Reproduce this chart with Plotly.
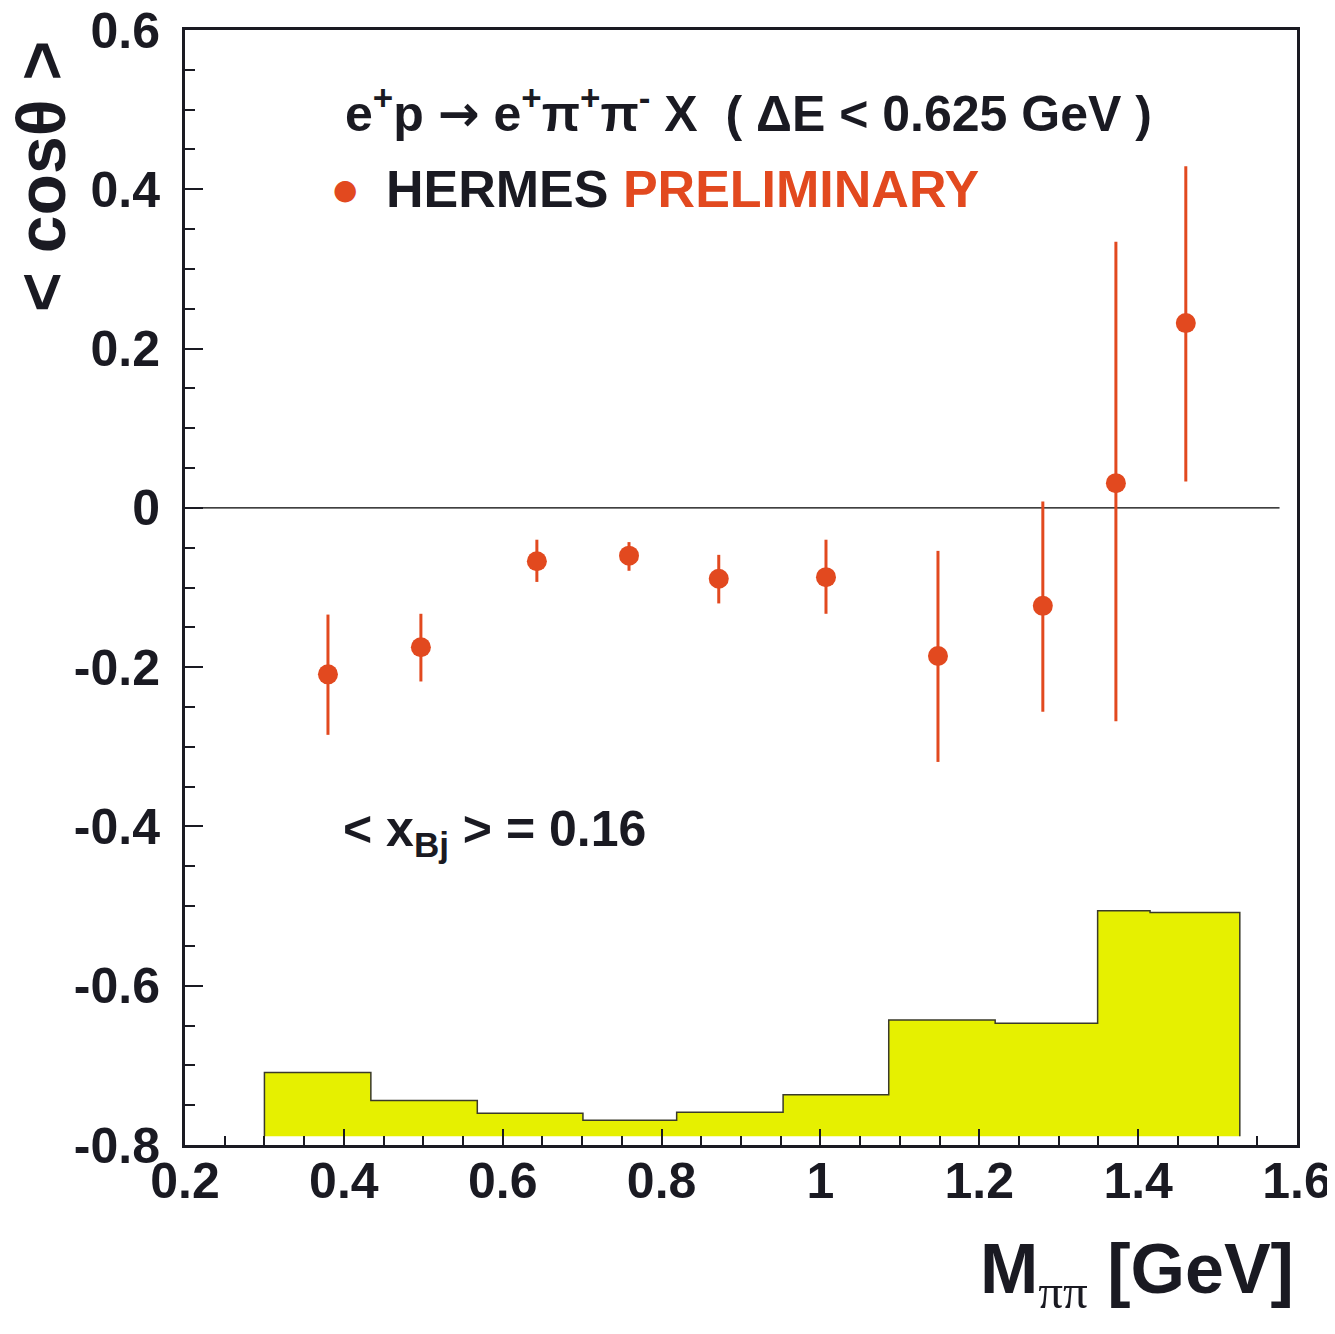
import plotly.graph_objects as go

# ---- data ----
m_pipi = [0.38, 0.497, 0.643, 0.759, 0.872, 1.007, 1.148, 1.280, 1.372, 1.460]
cos_mean = [-0.209, -0.175, -0.067, -0.060, -0.089, -0.087, -0.186, -0.123, 0.031, 0.232]
err_up = [0.075, 0.042, 0.027, 0.017, 0.030, 0.047, 0.132, 0.131, 0.303, 0.197]
err_down = [0.076, 0.043, 0.026, 0.019, 0.031, 0.046, 0.133, 0.133, 0.299, 0.199]

bin_edges = [0.30, 0.434, 0.568, 0.701, 0.819, 0.953, 1.086, 1.220, 1.349, 1.415, 1.528]
hist_top = [-0.709, -0.744, -0.760, -0.769, -0.759, -0.737, -0.643, -0.647, -0.506, -0.508]
hist_base = -0.789

y_ticks = [-0.8, -0.6, -0.4, -0.2, 0, 0.2, 0.4, 0.6]
y_ticktext = ["-0.8", "-0.6", "-0.4", "-0.2", "0", "0.2", "0.4", "0.6"]
x_ticks = [0.2, 0.4, 0.6, 0.8, 1.0, 1.2, 1.4, 1.6]
x_ticktext = ["0.2", "0.4", "0.6", "0.8", "1", "1.2", "1.4", "1.6"]

RED = "#E2491F"
YELLOW = "#E6F000"
INK = "#1a1a22"
FONT = "Liberation Sans"

# step outline polygon of the histogram
hx, hy = [bin_edges[0]], [hist_base]
for i, top in enumerate(hist_top):
    hx += [bin_edges[i], bin_edges[i + 1]]
    hy += [top, top]
hx += [bin_edges[-1]]
hy += [hist_base]

fig = go.Figure()
fig.add_trace(go.Scatter(
    x=hx, y=hy, mode="lines", fill="toself", fillcolor=YELLOW,
    line=dict(color="#3a3a2a", width=1.5), hoverinfo="skip", showlegend=False))

fig.add_trace(go.Scatter(
    x=m_pipi, y=cos_mean, mode="markers",
    marker=dict(color=RED, size=20, line=dict(width=0)),
    error_y=dict(type="data", symmetric=False, array=err_up, arrayminus=err_down,
                 color=RED, thickness=3, width=0),
    showlegend=False))

axis_common = dict(showline=True, linewidth=3, linecolor=INK, mirror=True,
                   showgrid=False, ticks="inside", tickcolor=INK, tickwidth=2,
                   automargin=False, zeroline=False, ticklabeloverflow="allow",
                   tickfont=dict(family=FONT, size=50, color=INK, weight="bold"))

fig.update_xaxes(range=[0.2, 1.6], tickvals=x_ticks, ticktext=x_ticktext,
                 ticklen=16, ticklabelstandoff=-10,
                 minor=dict(dtick=0.05, ticks="inside", ticklen=9, tickcolor=INK, tickwidth=2),
                 **axis_common)
fig.update_yaxes(range=[-0.8, 0.6], tickvals=y_ticks, ticktext=y_ticktext,
                 ticklen=18, ticklabelstandoff=12,
                 minor=dict(dtick=0.05, ticks="inside", ticklen=10, tickcolor=INK, tickwidth=2),
                 **axis_common)

# horizontal reference line at zero
fig.add_shape(type="line", xref="x", yref="y", x0=0.2, x1=1.578, y0=0, y1=0,
              line=dict(color="#000000", width=1.2), layer="below")

ann = [
    dict(x=0.142, y=0.928, xref="paper", yref="paper", xanchor="left", yanchor="middle",
         text="e<sup>+</sup>p <span style='font-family:DejaVu Sans'>\u2192</span> e<sup>+</sup>\u03c0<sup>+</sup>\u03c0<sup>-</sup> X  ( \u0394E &lt; 0.625 GeV )",
         font=dict(family=FONT, size=50, color=INK, weight="bold"), showarrow=False),
    dict(x=0.1435, y=0.857, xref="paper", yref="paper", xanchor="center", yanchor="middle",
         text="\u25cf", font=dict(family="DejaVu Sans", size=28, color=RED), showarrow=False),
    dict(x=0.179, y=0.857, xref="paper", yref="paper", xanchor="left", yanchor="middle",
         text="HERMES <span style='color:" + RED + "'>PRELIMINARY</span>",
         font=dict(family=FONT, size=52, color=INK, weight="bold"), showarrow=False),
    dict(x=0.14, y=0.28, xref="paper", yref="paper", xanchor="left", yanchor="middle",
         text="&lt; x<sub>Bj</sub> &gt; = 0.16",
         font=dict(family=FONT, size=50, color=INK, weight="bold"), showarrow=False),
    dict(x=0.9995, y=-0.158, xref="paper", yref="paper", xanchor="right", yanchor="bottom",
         text="M<sub><span style='font-family:Liberation Serif;font-weight:normal'>\u03c0\u03c0</span></sub> [GeV]",
         font=dict(family=FONT, size=70, color=INK, weight="bold"), showarrow=False),
    dict(x=-0.129, y=0.992, xref="paper", yref="paper", xanchor="center", yanchor="top",
         text="&lt; cos\u03b8 &gt;", textangle=-90,
         font=dict(family=FONT, size=68, color=INK, weight="bold"), showarrow=False),
]

fig.update_layout(
    width=1327, height=1318,
    margin=dict(l=177, r=38, t=22, b=181),
    paper_bgcolor="white", plot_bgcolor="white",
    annotations=ann,
)

fig.write_html("out.html")
